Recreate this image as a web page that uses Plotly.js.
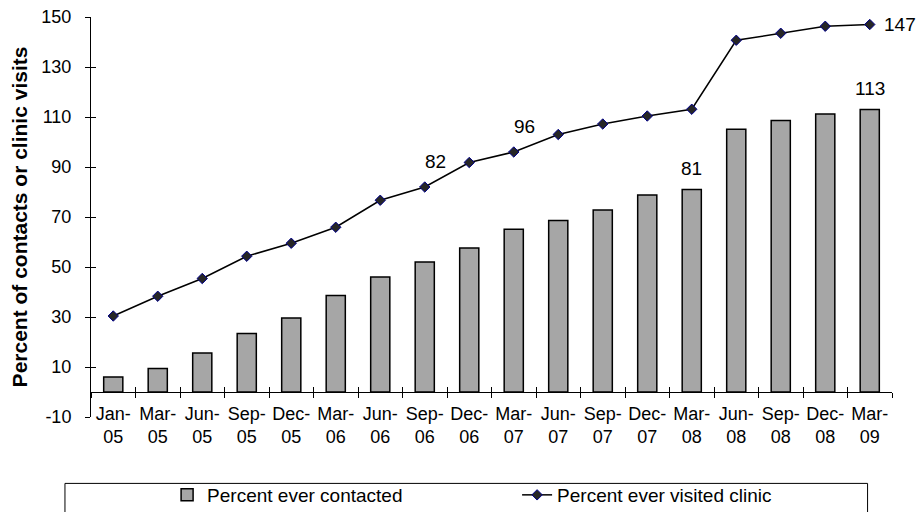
<!DOCTYPE html>
<html>
<head>
<meta charset="utf-8">
<script src="https://cdn.plot.ly/plotly-3.0.1.min.js"></script>
<style>html,body{margin:0;padding:0;background:#fff;}#chart{width:919px;height:512px;}</style>
</head>
<body>
<div id="chart"></div>
<script>
var categories = ['Jan-05','Mar-05','Jun-05','Sep-05','Dec-05','Mar-06','Jun-06','Sep-06','Dec-06',
                  'Mar-07','Jun-07','Sep-07','Dec-07','Mar-08','Jun-08','Sep-08','Dec-08','Mar-09'];
var contacted = [6, 9.4, 15.6, 23.4, 29.6, 38.6, 46, 52, 57.6, 65.1, 68.6, 72.8, 78.8, 81, 105.1, 108.6, 111.2, 113];
var visited   = [30.4, 38.3, 45.4, 54.3, 59.5, 65.9, 76.7, 82, 91.8, 96, 103, 107.2, 110.4, 113.1, 140.7, 143.5, 146.3, 147];
var contactedLabelIdx = [13, 17];
var visitedLabelIdx = [7, 9];
var visitedEndLabelIdx = [17];
var yTicks = [-10, 10, 30, 50, 70, 90, 110, 130, 150];
var yTickText = yTicks.map(String);
var tickLabels = categories.map(function (c) { return c.replace('-', '-<br>'); });

var FONT = 'Arial, "Liberation Sans", sans-serif';

var bars = {
  type: 'bar', x: categories, y: contacted, name: 'Percent ever contacted',
  xaxis: 'x', yaxis: 'y', width: 0.43,
  marker: {color: '#a6a6a6', line: {color: '#000', width: 1.5}},
  hoverinfo: 'x+y'
};
var line = {
  type: 'scatter', mode: 'lines+markers', x: categories, y: visited, name: 'Percent ever visited clinic',
  xaxis: 'x2', yaxis: 'y2',
  line: {color: '#000', width: 1.5},
  marker: {symbol: 'diamond', size: 8, color: '#262626', line: {color: '#00008b', width: 1}},
  cliponaxis: false
};

var annotations = [];
contactedLabelIdx.forEach(function (i) {
  annotations.push({x: categories[i], y: contacted[i], xref: 'x', yref: 'y', text: String(contacted[i]),
    showarrow: false, yanchor: 'bottom', yshift: 9, font: {family: FONT, size: 19, color: '#000'}});
});
visitedLabelIdx.forEach(function (i) {
  annotations.push({x: categories[i], y: visited[i], xref: 'x', yref: 'y', text: String(visited[i]),
    showarrow: false, yanchor: 'bottom', yshift: 13, xshift: 11, font: {family: FONT, size: 19, color: '#000'}});
});
visitedEndLabelIdx.forEach(function (i) {
  annotations.push({x: categories[i], y: visited[i], xref: 'x', yref: 'y', text: String(visited[i]),
    showarrow: false, xanchor: 'left', xshift: 12, font: {family: FONT, size: 19, color: '#000'}});
});

var xRange = [-0.5, categories.length - 0.5];

var layout = {
  width: 919, height: 512,
  margin: {l: 91, r: 27, t: 17, b: 95, pad: 0, autoexpand: false},
  paper_bgcolor: '#fff', plot_bgcolor: '#fff',
  font: {family: FONT, size: 18, color: '#000'},
  showlegend: true,
  xaxis: {
    type: 'category', anchor: 'free', position: 0.0625, automargin: false, range: xRange,
    tickmode: 'array', tickvals: categories, ticktext: tickLabels, tickangle: 0,
    tickson: 'boundaries', ticks: 'outside', ticklen: 5, tickcolor: '#000', tickwidth: 1,
    ticklabelstandoff: 5,
    showline: true, linecolor: '#000', linewidth: 1, showgrid: false, zeroline: false,
    tickfont: {family: FONT, size: 18, color: '#000'}
  },
  xaxis2: {
    type: 'category', overlaying: 'x', matches: 'x', anchor: 'free', position: 0.0625, automargin: false,
    range: xRange,
    tickson: 'boundaries', ticks: 'inside', ticklen: 5, tickcolor: '#000', tickwidth: 1,
    showticklabels: false, showline: false, showgrid: false, zeroline: false
  },
  yaxis: {
    range: [-10, 150], anchor: 'x', automargin: false, tickmode: 'array', tickvals: yTicks, ticktext: yTickText,
    ticks: 'outside', ticklen: 5, tickcolor: '#000', tickwidth: 1, ticklabelstandoff: 10,
    showline: true, linecolor: '#000', linewidth: 1, showgrid: false, zeroline: false,
    tickfont: {family: FONT, size: 18, color: '#000'},
    title: {text: 'Percent of contacts or clinic visits', font: {family: FONT, size: 21, color: '#000', weight: 'bold'}, standoff: 8}
  },
  yaxis2: {
    range: [-10, 150], overlaying: 'y', matches: 'y', anchor: 'x', side: 'left', automargin: false,
    tickmode: 'array', tickvals: yTicks,
    ticks: 'inside', ticklen: 5, tickcolor: '#000', tickwidth: 1,
    showticklabels: false, showline: false, showgrid: false, zeroline: false
  },
  legend: {
    orientation: 'h', x: 0.095, xanchor: 'left', y: -0.1475, yanchor: 'top',
    entrywidth: 305, entrywidthmode: 'pixels',
    font: {family: FONT, size: 19, color: '#000'}, bgcolor: 'rgba(0,0,0,0)', borderwidth: 0
  },
  shapes: [{
    type: 'rect', xref: 'paper', yref: 'paper', x0: -0.0325, x1: 0.9695, y0: -0.166, y1: -0.3,
    line: {color: '#000', width: 1}, fillcolor: 'rgba(0,0,0,0)', layer: 'below'
  }],
  annotations: annotations
};

Plotly.newPlot('chart', [bars, line], layout, {displayModeBar: false, staticPlot: true});
</script>
</body>
</html>
